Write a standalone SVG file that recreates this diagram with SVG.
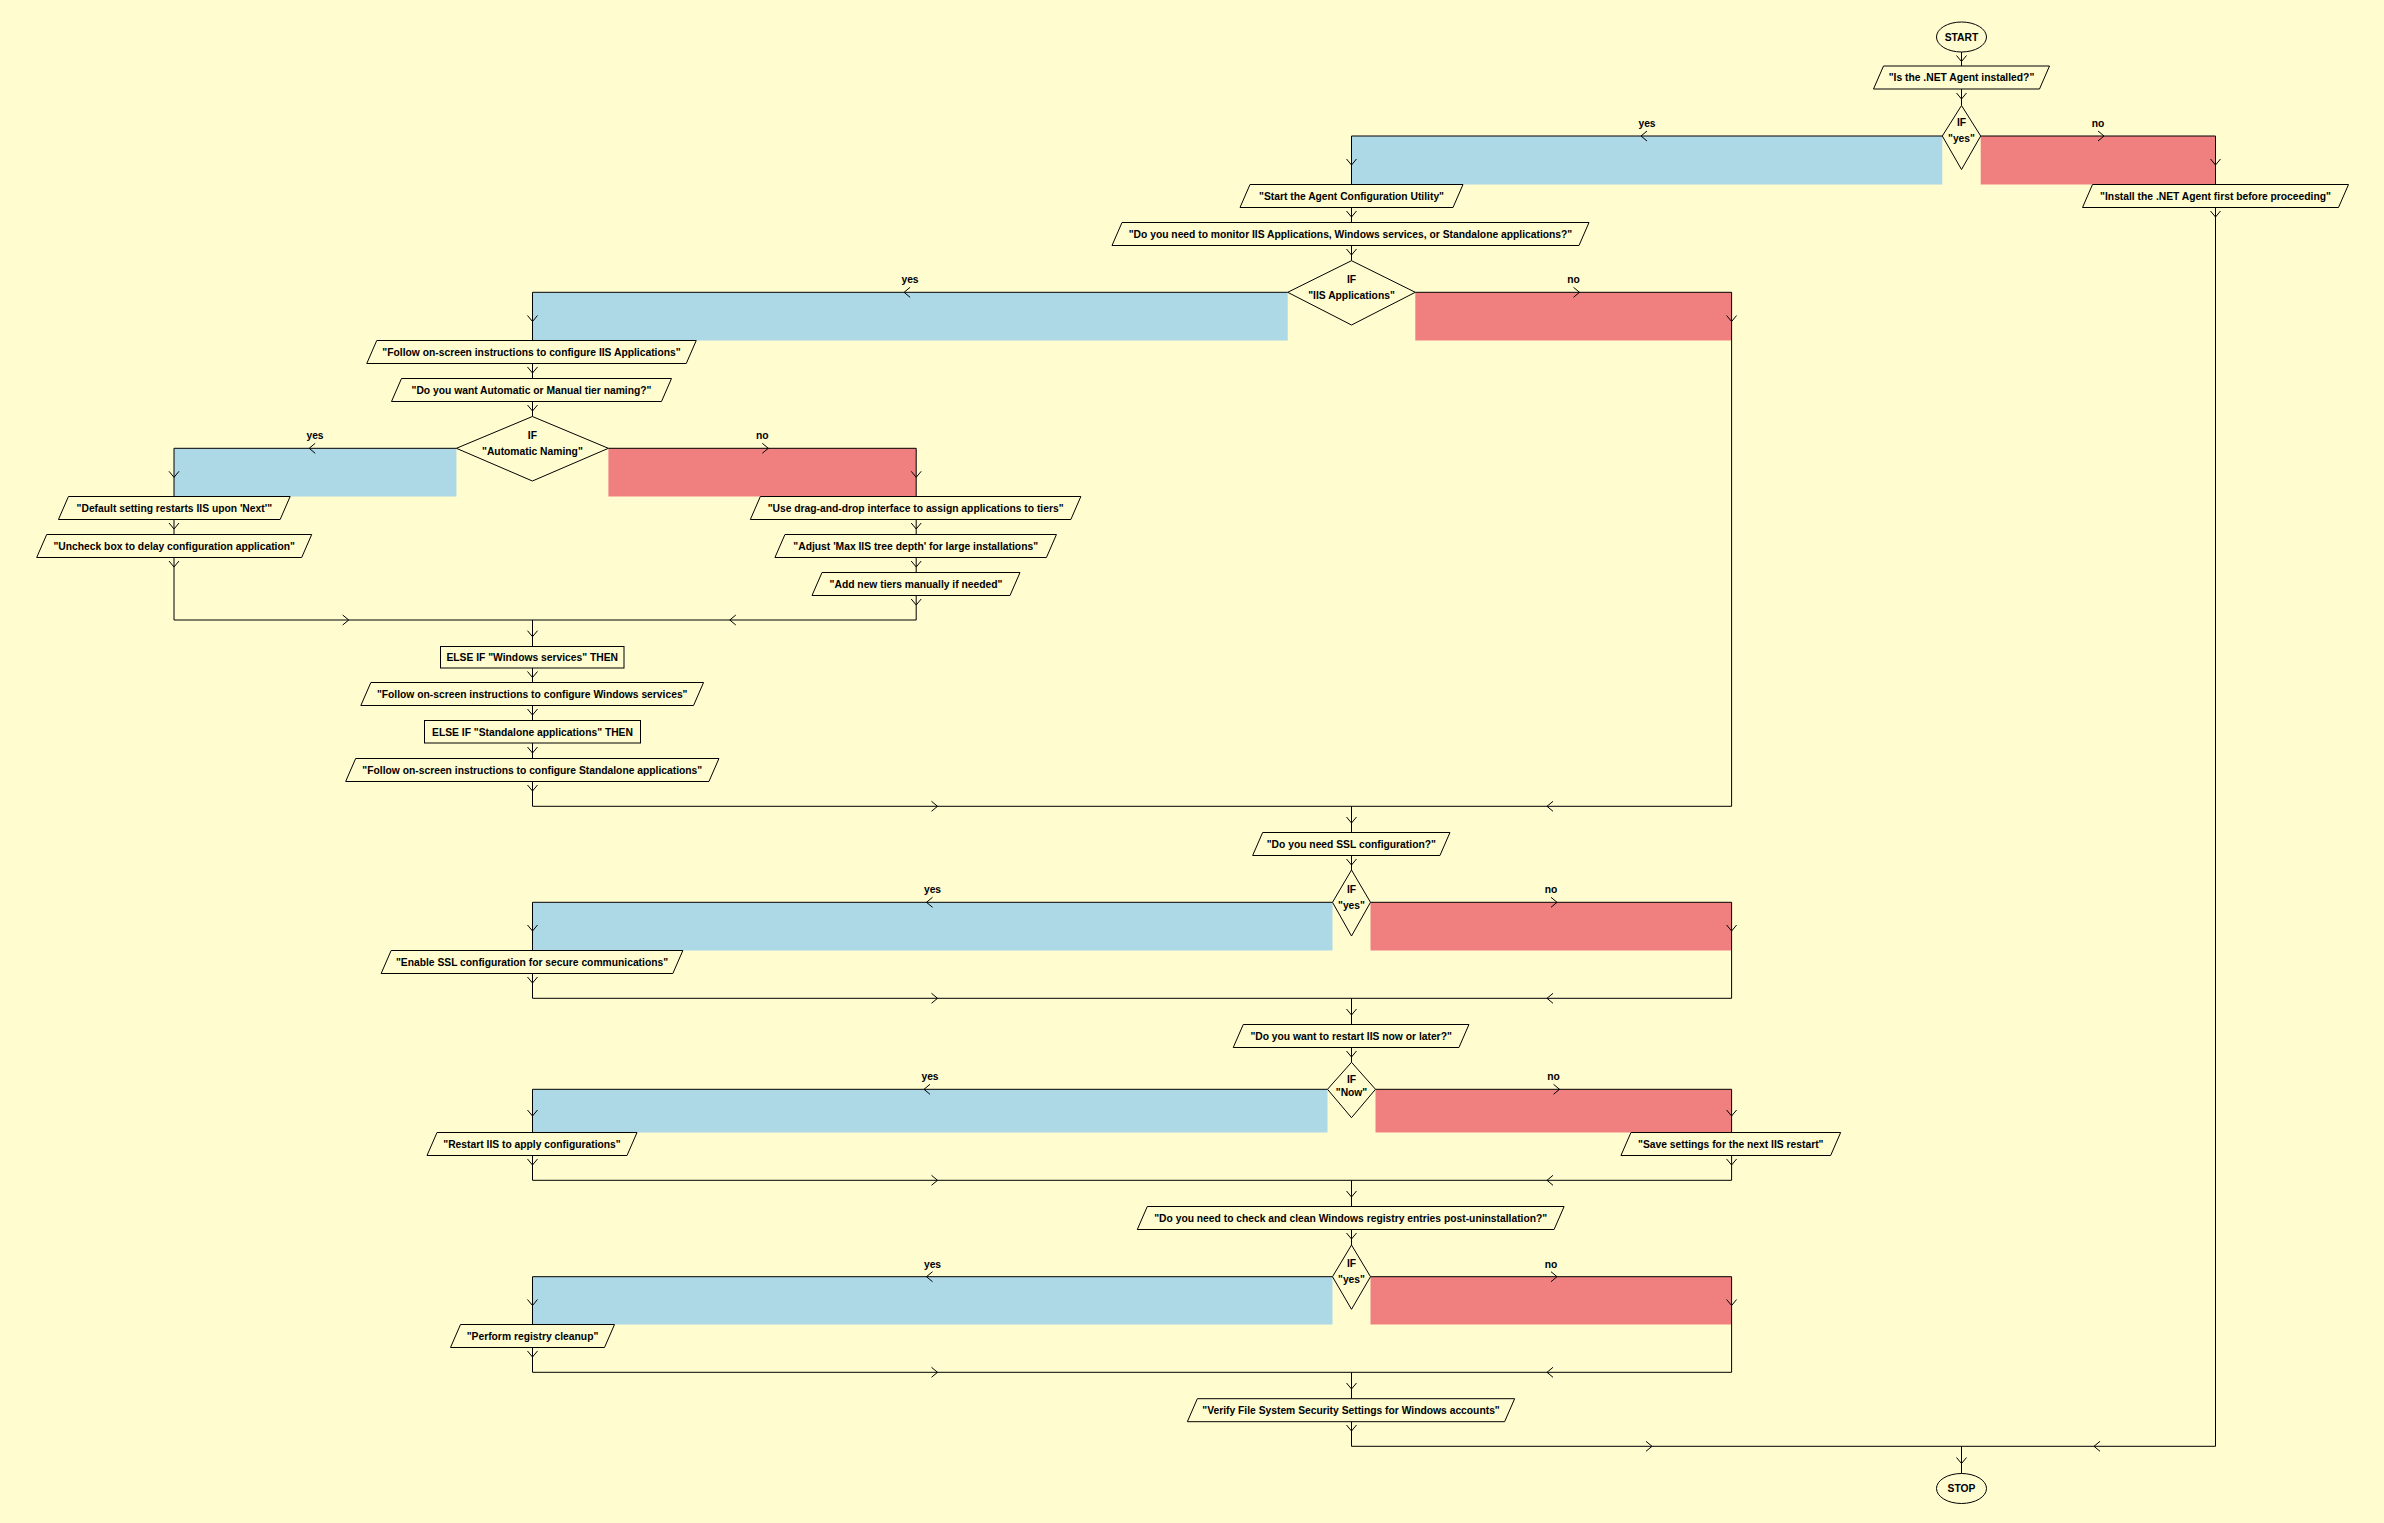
<svg xmlns="http://www.w3.org/2000/svg" xmlns:xlink="http://www.w3.org/1999/xlink" width="2384" height="1523" viewBox="0 0 2384 1523">
<style>
.bg{fill:#FFFCD0}
.n{fill:#FFFCD0;stroke:#000;stroke-width:1}
.t{font-family:"Liberation Sans",Arial,sans-serif;font-weight:bold;font-size:10.3px;text-anchor:middle;fill:#000}
.c{fill:none;stroke:#000;stroke-width:1}
.yb{fill:#ADD8E6}
.nb{fill:#F08080}
</style>
<defs>
<path id="ad" d="M-5,-6L0,0L5,-6"/>
<path id="al" d="M6,-5L0,0L6,5"/>
<path id="ar" d="M-6,-5L0,0L-6,5"/>
</defs>
<rect class="bg" x="0" y="0" width="2384" height="1523"/>

<g id="branch-fills">
<rect class="yb" x="1351.5" y="136" width="590.8" height="48.5"/>
<rect class="nb" x="1980.7" y="136" width="234.8" height="48.5"/>
<rect class="yb" x="532.5" y="292.3" width="755.2" height="48.2"/>
<rect class="nb" x="1415.3" y="292.3" width="316.3" height="48.2"/>
<rect class="yb" x="174" y="448.3" width="282.4" height="48.2"/>
<rect class="nb" x="608.4" y="448.3" width="307.8" height="48.2"/>
<rect class="yb" x="532.5" y="902.3" width="800" height="48.2"/>
<rect class="nb" x="1370.5" y="902.3" width="361.1" height="48.2"/>
<rect class="yb" x="532.5" y="1089.3" width="795" height="43.2"/>
<rect class="nb" x="1375.5" y="1089.3" width="356.1" height="43.2"/>
<rect class="yb" x="532.5" y="1276.7" width="800" height="47.8"/>
<rect class="nb" x="1370.5" y="1276.7" width="361.1" height="47.8"/>
</g>

<g id="connectors" class="c">
<path d="M1961.5,52V66M1961.5,89V105.5"/>
<path d="M1942.3,136H1351.5V184.5M1980.7,136H2215.5V184.5"/>
<path d="M1351.5,207.5V222.5M1351.5,245.5V260.7"/>
<path d="M1287.7,292.3H532.5V340.5M1415.3,292.3H1731.6V806.3"/>
<path d="M532.5,363.5V378.5M532.5,401.5V416.5"/>
<path d="M456.4,448.3H174V496.5M608.4,448.3H916.2V496.5"/>
<path d="M174,519.5V534.5M174,557.5V620H916.2V595.5M916.2,519.5V534.5M916.2,557.5V572.5"/>
<path d="M532.5,620V646.5M532.5,668V682.5M532.5,705.5V720.5M532.5,743V758.5"/>
<path d="M532.5,781.5V806.3H1731.6"/>
<path d="M1351.5,806.3V832.5M1351.5,855.5V870"/>
<path d="M1332.5,902.3H532.5V950.5M1370.5,902.3H1731.6V998.3"/>
<path d="M532.5,973.5V998.3H1731.6"/>
<path d="M1351.5,998.3V1024.5M1351.5,1047.5V1062.3"/>
<path d="M1327.5,1089.3H532.5V1132.5M1375.5,1089.3H1731.6V1132.5"/>
<path d="M532.5,1155.5V1180.3H1731.6V1155.5"/>
<path d="M1351.5,1180.3V1206.5M1351.5,1229.5V1245"/>
<path d="M1332.5,1276.7H532.5V1324.5M1370.5,1276.7H1731.6V1372.3"/>
<path d="M532.5,1347.5V1372.3H1731.6"/>
<path d="M1351.5,1372.3V1398.7M1351.5,1421.7V1446.3H2215.5V207.5"/>
<path d="M1961.5,1446.3V1473.5"/>

<use xlink:href="#ad" x="1961.5" y="61.5"/>
<use xlink:href="#ad" x="1961.5" y="99"/>
<use xlink:href="#al" x="1641" y="136"/>
<use xlink:href="#ar" x="2104" y="136"/>
<use xlink:href="#ad" x="1351.5" y="165"/>
<use xlink:href="#ad" x="2215.5" y="165"/>
<use xlink:href="#ad" x="2215.5" y="217"/>
<use xlink:href="#ad" x="1351.5" y="217"/>
<use xlink:href="#ad" x="1351.5" y="255"/>
<use xlink:href="#al" x="904.1" y="292.3"/>
<use xlink:href="#ar" x="1579.5" y="292.3"/>
<use xlink:href="#ad" x="532.5" y="321.5"/>
<use xlink:href="#ad" x="1731.6" y="321.5"/>
<use xlink:href="#ad" x="532.5" y="373"/>
<use xlink:href="#ad" x="532.5" y="411"/>
<use xlink:href="#al" x="309.2" y="448.3"/>
<use xlink:href="#ar" x="768.3" y="448.3"/>
<use xlink:href="#ad" x="174" y="477.3"/>
<use xlink:href="#ad" x="916.2" y="477.3"/>
<use xlink:href="#ad" x="174" y="529"/>
<use xlink:href="#ad" x="174" y="567"/>
<use xlink:href="#ad" x="916.2" y="529"/>
<use xlink:href="#ad" x="916.2" y="567"/>
<use xlink:href="#ad" x="916.2" y="605"/>
<use xlink:href="#ar" x="348.7" y="620"/>
<use xlink:href="#al" x="729.8" y="620"/>
<use xlink:href="#ad" x="532.5" y="636.7"/>
<use xlink:href="#ad" x="532.5" y="677.5"/>
<use xlink:href="#ad" x="532.5" y="715"/>
<use xlink:href="#ad" x="532.5" y="753"/>
<use xlink:href="#ad" x="532.5" y="791"/>
<use xlink:href="#ar" x="937.5" y="806.3"/>
<use xlink:href="#al" x="1547" y="806.3"/>
<use xlink:href="#ad" x="1351.5" y="823"/>
<use xlink:href="#ad" x="1351.5" y="865"/>
<use xlink:href="#al" x="926.5" y="902.3"/>
<use xlink:href="#ar" x="1557" y="902.3"/>
<use xlink:href="#ad" x="532.5" y="931"/>
<use xlink:href="#ad" x="1731.6" y="931"/>
<use xlink:href="#ad" x="532.5" y="983"/>
<use xlink:href="#ar" x="937.5" y="998.3"/>
<use xlink:href="#al" x="1547" y="998.3"/>
<use xlink:href="#ad" x="1351.5" y="1015"/>
<use xlink:href="#ad" x="1351.5" y="1057"/>
<use xlink:href="#al" x="924" y="1089.3"/>
<use xlink:href="#ar" x="1559.5" y="1089.3"/>
<use xlink:href="#ad" x="532.5" y="1116"/>
<use xlink:href="#ad" x="1731.6" y="1116"/>
<use xlink:href="#ad" x="532.5" y="1165"/>
<use xlink:href="#ad" x="1731.6" y="1165"/>
<use xlink:href="#ar" x="937.5" y="1180.3"/>
<use xlink:href="#al" x="1547" y="1180.3"/>
<use xlink:href="#ad" x="1351.5" y="1197"/>
<use xlink:href="#ad" x="1351.5" y="1239"/>
<use xlink:href="#al" x="926.5" y="1276.7"/>
<use xlink:href="#ar" x="1557" y="1276.7"/>
<use xlink:href="#ad" x="532.5" y="1305.5"/>
<use xlink:href="#ad" x="1731.6" y="1305.5"/>
<use xlink:href="#ad" x="532.5" y="1357"/>
<use xlink:href="#ar" x="937.5" y="1372.3"/>
<use xlink:href="#al" x="1547" y="1372.3"/>
<use xlink:href="#ad" x="1351.5" y="1389"/>
<use xlink:href="#ad" x="1351.5" y="1431"/>
<use xlink:href="#ar" x="1652" y="1446.3"/>
<use xlink:href="#al" x="2094" y="1446.3"/>
<use xlink:href="#ad" x="1961.5" y="1463.5"/>
</g>

<g id="branch-labels">
<text class="t" x="1647" y="127">yes</text>
<text class="t" x="2098" y="127">no</text>
<text class="t" x="910" y="283.3">yes</text>
<text class="t" x="1573.5" y="283.3">no</text>
<text class="t" x="315" y="439.3">yes</text>
<text class="t" x="762.3" y="439.3">no</text>
<text class="t" x="932.5" y="893.3">yes</text>
<text class="t" x="1551" y="893.3">no</text>
<text class="t" x="930" y="1080.3">yes</text>
<text class="t" x="1553.5" y="1080.3">no</text>
<text class="t" x="932.5" y="1267.7">yes</text>
<text class="t" x="1551" y="1267.7">no</text>
</g>

<g id="start">
<ellipse class="n" cx="1961.5" cy="37" rx="25" ry="15"/>
<text class="t" x="1961.5" y="40.7">START</text>
</g>

<g id="q-agent-installed">
<polygon class="n" points="1883.5,66 2049.5,66 2039.5,89 1873.5,89"/>
<text class="t" x="1961.5" y="81.2">"Is the .NET Agent installed?"</text>
</g>

<g id="if-installed">
<polygon class="n" points="1961.5,105.5 1980.7,136 1961.5,169.5 1942.3,136"/>
<text class="t" x="1961.5" y="126.4">IF</text>
<text class="t" x="1961.5" y="142.4">"yes"</text>
</g>

<g id="install-agent">
<polygon class="n" points="2092.5,184.5 2348.5,184.5 2338.5,207.5 2082.5,207.5"/>
<text class="t" x="2215.5" y="199.7">"Install the .NET Agent first before proceeding"</text>
</g>

<g id="start-utility">
<polygon class="n" points="1250,184.5 1463,184.5 1453,207.5 1240,207.5"/>
<text class="t" x="1351.5" y="199.7">"Start the Agent Configuration Utility"</text>
</g>

<g id="q-monitor">
<polygon class="n" points="1122,222.5 1589,222.5 1579,245.5 1112,245.5"/>
<text class="t" x="1350.5" y="237.7">"Do you need to monitor IIS Applications, Windows services, or Standalone applications?"</text>
</g>

<g id="if-iis">
<polygon class="n" points="1351.5,260.7 1415.3,292.3 1351.5,325 1287.7,292.3"/>
<text class="t" x="1351.5" y="282.7">IF</text>
<text class="t" x="1351.5" y="298.7">"IIS Applications"</text>
</g>

<g id="follow-iis">
<polygon class="n" points="376.75,340.5 696.25,340.5 686.25,363.5 366.75,363.5"/>
<text class="t" x="531.5" y="355.7">"Follow on-screen instructions to configure IIS Applications"</text>
</g>

<g id="q-naming">
<polygon class="n" points="401.5,378.5 671.5,378.5 661.5,401.5 391.5,401.5"/>
<text class="t" x="531.5" y="393.7">"Do you want Automatic or Manual tier naming?"</text>
</g>

<g id="if-naming">
<polygon class="n" points="532.4,416.5 608.4,448.3 532.4,481 456.4,448.3"/>
<text class="t" x="532.4" y="439">IF</text>
<text class="t" x="532.4" y="454.7">"Automatic Naming"</text>
</g>

<g id="default-setting">
<polygon class="n" points="68.45,496.5 290.15,496.5 280.15,519.5 58.45,519.5"/>
<text class="t" x="174.3" y="511.7">"Default setting restarts IIS upon 'Next'"</text>
</g>

<g id="uncheck-box">
<polygon class="n" points="46.7,534.5 311.7,534.5 301.7,557.5 36.7,557.5"/>
<text class="t" x="174.2" y="549.7">"Uncheck box to delay configuration application"</text>
</g>

<g id="drag-drop">
<polygon class="n" points="760.35,496.5 1080.85,496.5 1070.85,519.5 750.35,519.5"/>
<text class="t" x="915.6" y="511.7">"Use drag-and-drop interface to assign applications to tiers"</text>
</g>

<g id="adjust-depth">
<polygon class="n" points="784.95,534.5 1056.45,534.5 1046.45,557.5 774.95,557.5"/>
<text class="t" x="915.7" y="549.7">"Adjust 'Max IIS tree depth' for large installations"</text>
</g>

<g id="add-tiers">
<polygon class="n" points="822,572.5 1020,572.5 1010,595.5 812,595.5"/>
<text class="t" x="916" y="587.7">"Add new tiers manually if needed"</text>
</g>

<g id="elseif-windows">
<rect class="n" x="440.5" y="646.5" width="183.5" height="21.5"/>
<text class="t" x="532.25" y="661">ELSE IF "Windows services" THEN</text>
</g>

<g id="follow-windows">
<polygon class="n" points="370.85,682.5 703.55,682.5 693.55,705.5 360.85,705.5"/>
<text class="t" x="532.2" y="697.7">"Follow on-screen instructions to configure Windows services"</text>
</g>

<g id="elseif-standalone">
<rect class="n" x="424.5" y="720.5" width="216" height="22.5"/>
<text class="t" x="532.5" y="735.5">ELSE IF "Standalone applications" THEN</text>
</g>

<g id="follow-standalone">
<polygon class="n" points="355.65,758.5 718.95,758.5 708.95,781.5 345.65,781.5"/>
<text class="t" x="532.3" y="773.7">"Follow on-screen instructions to configure Standalone applications"</text>
</g>

<g id="q-ssl">
<polygon class="n" points="1262.65,832.5 1449.95,832.5 1439.95,855.5 1252.65,855.5"/>
<text class="t" x="1351.3" y="847.7">"Do you need SSL configuration?"</text>
</g>

<g id="if-ssl">
<polygon class="n" points="1351.5,870 1370.5,902.3 1351.5,936 1332.5,902.3"/>
<text class="t" x="1351.5" y="892.7">IF</text>
<text class="t" x="1351.5" y="908.7">"yes"</text>
</g>

<g id="enable-ssl">
<polygon class="n" points="391.15,950.5 682.85,950.5 672.85,973.5 381.15,973.5"/>
<text class="t" x="532" y="965.7">"Enable SSL configuration for secure communications"</text>
</g>

<g id="q-restart">
<polygon class="n" points="1243.25,1024.5 1468.95,1024.5 1458.95,1047.5 1233.25,1047.5"/>
<text class="t" x="1351.1" y="1039.7">"Do you want to restart IIS now or later?"</text>
</g>

<g id="if-now">
<polygon class="n" points="1351.5,1062.3 1375.5,1089.3 1351.5,1117.7 1327.5,1089.3"/>
<text class="t" x="1351.5" y="1082.7">IF</text>
<text class="t" x="1351.5" y="1095.7">"Now"</text>
</g>

<g id="restart-iis">
<polygon class="n" points="437,1132.5 637,1132.5 627,1155.5 427,1155.5"/>
<text class="t" x="532" y="1147.7">"Restart IIS to apply configurations"</text>
</g>

<g id="save-settings">
<polygon class="n" points="1630.95,1132.5 1840.65,1132.5 1830.65,1155.5 1620.95,1155.5"/>
<text class="t" x="1730.8" y="1147.7">"Save settings for the next IIS restart"</text>
</g>

<g id="q-registry">
<polygon class="n" points="1147.3,1206.5 1564.1,1206.5 1554.1,1229.5 1137.3,1229.5"/>
<text class="t" x="1350.7" y="1221.7">"Do you need to check and clean Windows registry entries post-uninstallation?"</text>
</g>

<g id="if-registry">
<polygon class="n" points="1351.5,1245 1370.5,1276.7 1351.5,1309.3 1332.5,1276.7"/>
<text class="t" x="1351.5" y="1266.6">IF</text>
<text class="t" x="1351.5" y="1282.7">"yes"</text>
</g>

<g id="registry-cleanup">
<polygon class="n" points="460.5,1324.5 614.5,1324.5 604.5,1347.5 450.5,1347.5"/>
<text class="t" x="532.5" y="1339.7">"Perform registry cleanup"</text>
</g>

<g id="verify-fs">
<polygon class="n" points="1197.35,1398.7 1514.65,1398.7 1504.65,1421.7 1187.35,1421.7"/>
<text class="t" x="1351" y="1413.9">"Verify File System Security Settings for Windows accounts"</text>
</g>

<g id="stop">
<ellipse class="n" cx="1961.5" cy="1488.5" rx="25" ry="15"/>
<text class="t" x="1961.5" y="1492.2">STOP</text>
</g>
</svg>
